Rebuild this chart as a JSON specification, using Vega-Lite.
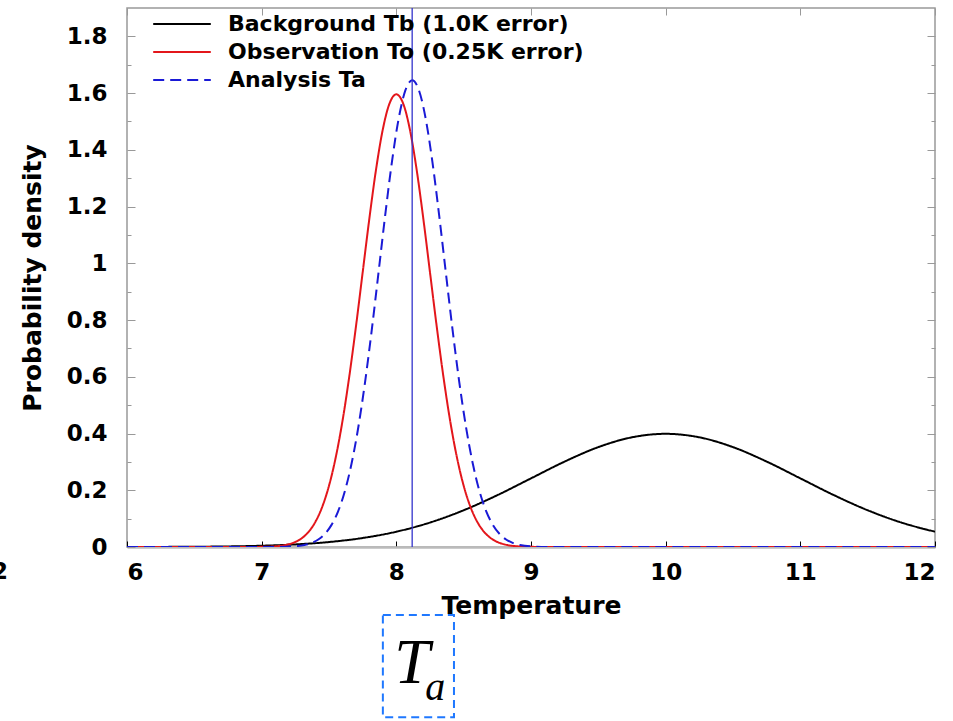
{
  "$schema": "https://vega.github.io/schema/vega-lite/v6.json",
  "width": 808,
  "height": 539,
  "autosize": {"type": "none"},
  "padding": {"left": 127, "top": 8, "right": 18, "bottom": 174},
  "background": "white",
  "config": {
    "view": {"stroke": "#999999", "strokeWidth": 1.5},
    "font": "DejaVu Sans",
    "axis": {"grid": false, "labelFont": "DejaVu Sans", "labelFontWeight": "bold", "labelFontSize": 23, "labelColor": "#000", "titleFont": "DejaVu Sans", "titleFontWeight": "bold", "titleFontSize": 25, "titleColor": "#000"}
  },
  "datasets": {
    "curves": [
      {"series": "Background Tb (1.0K error)", "x": 6, "y": 0.000134},
      {"series": "Background Tb (1.0K error)", "x": 6.25, "y": 0.000353},
      {"series": "Background Tb (1.0K error)", "x": 6.5, "y": 0.000873},
      {"series": "Background Tb (1.0K error)", "x": 6.75, "y": 0.002029},
      {"series": "Background Tb (1.0K error)", "x": 7, "y": 0.004432},
      {"series": "Background Tb (1.0K error)", "x": 7.25, "y": 0.009094},
      {"series": "Background Tb (1.0K error)", "x": 7.5, "y": 0.017528},
      {"series": "Background Tb (1.0K error)", "x": 7.75, "y": 0.03174},
      {"series": "Background Tb (1.0K error)", "x": 8, "y": 0.053991},
      {"series": "Background Tb (1.0K error)", "x": 8.25, "y": 0.086277},
      {"series": "Background Tb (1.0K error)", "x": 8.5, "y": 0.129518},
      {"series": "Background Tb (1.0K error)", "x": 8.75, "y": 0.182649},
      {"series": "Background Tb (1.0K error)", "x": 9, "y": 0.241971},
      {"series": "Background Tb (1.0K error)", "x": 9.25, "y": 0.301137},
      {"series": "Background Tb (1.0K error)", "x": 9.5, "y": 0.352065},
      {"series": "Background Tb (1.0K error)", "x": 9.75, "y": 0.386668},
      {"series": "Background Tb (1.0K error)", "x": 10, "y": 0.398942},
      {"series": "Background Tb (1.0K error)", "x": 10.25, "y": 0.386668},
      {"series": "Background Tb (1.0K error)", "x": 10.5, "y": 0.352065},
      {"series": "Background Tb (1.0K error)", "x": 10.75, "y": 0.301137},
      {"series": "Background Tb (1.0K error)", "x": 11, "y": 0.241971},
      {"series": "Background Tb (1.0K error)", "x": 11.25, "y": 0.182649},
      {"series": "Background Tb (1.0K error)", "x": 11.5, "y": 0.129518},
      {"series": "Background Tb (1.0K error)", "x": 11.75, "y": 0.086277},
      {"series": "Background Tb (1.0K error)", "x": 12, "y": 0.053991},
      {"series": "Observation To (0.25K error)", "x": 6, "y": 0},
      {"series": "Observation To (0.25K error)", "x": 6.8, "y": 0.000016},
      {"series": "Observation To (0.25K error)", "x": 7.0, "y": 0.000535},
      {"series": "Observation To (0.25K error)", "x": 7.1, "y": 0.002448},
      {"series": "Observation To (0.25K error)", "x": 7.2, "y": 0.009537},
      {"series": "Observation To (0.25K error)", "x": 7.25, "y": 0.017727},
      {"series": "Observation To (0.25K error)", "x": 7.3, "y": 0.031662},
      {"series": "Observation To (0.25K error)", "x": 7.35, "y": 0.054331},
      {"series": "Observation To (0.25K error)", "x": 7.4, "y": 0.089578},
      {"series": "Observation To (0.25K error)", "x": 7.45, "y": 0.1419},
      {"series": "Observation To (0.25K error)", "x": 7.5, "y": 0.215964},
      {"series": "Observation To (0.25K error)", "x": 7.55, "y": 0.315801},
      {"series": "Observation To (0.25K error)", "x": 7.6, "y": 0.443683},
      {"series": "Observation To (0.25K error)", "x": 7.65, "y": 0.59891},
      {"series": "Observation To (0.25K error)", "x": 7.7, "y": 0.776744},
      {"series": "Observation To (0.25K error)", "x": 7.75, "y": 0.967882},
      {"series": "Observation To (0.25K error)", "x": 7.8, "y": 1.158767},
      {"series": "Observation To (0.25K error)", "x": 7.85, "y": 1.332898},
      {"series": "Observation To (0.25K error)", "x": 7.9, "y": 1.47308},
      {"series": "Observation To (0.25K error)", "x": 7.95, "y": 1.56417},
      {"series": "Observation To (0.25K error)", "x": 8.0, "y": 1.595769},
      {"series": "Observation To (0.25K error)", "x": 8.05, "y": 1.56417},
      {"series": "Observation To (0.25K error)", "x": 8.1, "y": 1.47308},
      {"series": "Observation To (0.25K error)", "x": 8.15, "y": 1.332898},
      {"series": "Observation To (0.25K error)", "x": 8.2, "y": 1.158767},
      {"series": "Observation To (0.25K error)", "x": 8.25, "y": 0.967882},
      {"series": "Observation To (0.25K error)", "x": 8.3, "y": 0.776744},
      {"series": "Observation To (0.25K error)", "x": 8.35, "y": 0.59891},
      {"series": "Observation To (0.25K error)", "x": 8.4, "y": 0.443683},
      {"series": "Observation To (0.25K error)", "x": 8.45, "y": 0.315801},
      {"series": "Observation To (0.25K error)", "x": 8.5, "y": 0.215964},
      {"series": "Observation To (0.25K error)", "x": 8.55, "y": 0.1419},
      {"series": "Observation To (0.25K error)", "x": 8.6, "y": 0.089578},
      {"series": "Observation To (0.25K error)", "x": 8.65, "y": 0.054331},
      {"series": "Observation To (0.25K error)", "x": 8.7, "y": 0.031662},
      {"series": "Observation To (0.25K error)", "x": 8.75, "y": 0.017727},
      {"series": "Observation To (0.25K error)", "x": 8.8, "y": 0.009537},
      {"series": "Observation To (0.25K error)", "x": 8.9, "y": 0.002448},
      {"series": "Observation To (0.25K error)", "x": 9.0, "y": 0.000535},
      {"series": "Observation To (0.25K error)", "x": 9.2, "y": 0.000016},
      {"series": "Observation To (0.25K error)", "x": 12, "y": 0},
      {"series": "Analysis Ta", "x": 6, "y": 0},
      {"series": "Analysis Ta", "x": 6.9176, "y": 0.000008},
      {"series": "Analysis Ta", "x": 7.1176, "y": 0.000335},
      {"series": "Analysis Ta", "x": 7.2176, "y": 0.001683},
      {"series": "Analysis Ta", "x": 7.3176, "y": 0.007137},
      {"series": "Analysis Ta", "x": 7.3676, "y": 0.013796},
      {"series": "Analysis Ta", "x": 7.4176, "y": 0.02555},
      {"series": "Analysis Ta", "x": 7.4676, "y": 0.045338},
      {"series": "Analysis Ta", "x": 7.5176, "y": 0.077125},
      {"series": "Analysis Ta", "x": 7.5676, "y": 0.125735},
      {"series": "Analysis Ta", "x": 7.6176, "y": 0.196454},
      {"series": "Analysis Ta", "x": 7.6676, "y": 0.294182},
      {"series": "Analysis Ta", "x": 7.7176, "y": 0.422177},
      {"series": "Analysis Ta", "x": 7.7676, "y": 0.580684},
      {"series": "Analysis Ta", "x": 7.8176, "y": 0.765418},
      {"series": "Analysis Ta", "x": 7.8676, "y": 0.966976},
      {"series": "Analysis Ta", "x": 7.9176, "y": 1.170776},
      {"series": "Analysis Ta", "x": 7.9676, "y": 1.358552},
      {"series": "Analysis Ta", "x": 8.0176, "y": 1.510842},
      {"series": "Analysis Ta", "x": 8.0676, "y": 1.610294},
      {"series": "Analysis Ta", "x": 8.1176, "y": 1.64488},
      {"series": "Analysis Ta", "x": 8.1676, "y": 1.610294},
      {"series": "Analysis Ta", "x": 8.2176, "y": 1.510842},
      {"series": "Analysis Ta", "x": 8.2676, "y": 1.358552},
      {"series": "Analysis Ta", "x": 8.3176, "y": 1.170776},
      {"series": "Analysis Ta", "x": 8.3676, "y": 0.966976},
      {"series": "Analysis Ta", "x": 8.4176, "y": 0.765418},
      {"series": "Analysis Ta", "x": 8.4676, "y": 0.580684},
      {"series": "Analysis Ta", "x": 8.5176, "y": 0.422177},
      {"series": "Analysis Ta", "x": 8.5676, "y": 0.294182},
      {"series": "Analysis Ta", "x": 8.6176, "y": 0.196454},
      {"series": "Analysis Ta", "x": 8.6676, "y": 0.125735},
      {"series": "Analysis Ta", "x": 8.7176, "y": 0.077125},
      {"series": "Analysis Ta", "x": 8.7676, "y": 0.045338},
      {"series": "Analysis Ta", "x": 8.8176, "y": 0.02555},
      {"series": "Analysis Ta", "x": 8.8676, "y": 0.013796},
      {"series": "Analysis Ta", "x": 8.9176, "y": 0.007137},
      {"series": "Analysis Ta", "x": 9.0176, "y": 0.001683},
      {"series": "Analysis Ta", "x": 9.1176, "y": 0.000335},
      {"series": "Analysis Ta", "x": 9.3176, "y": 0.000008},
      {"series": "Analysis Ta", "x": 12, "y": 0}
    ],
    "vline": [{"x": 8.1176, "y": 0, "y2": 1.9}],
    "box": [{"x": 7.9, "x2": 8.428, "y": -0.24, "y2": -0.6}],
    "bigT": [{"x": 7.985, "y": -0.48, "t": "T"}],
    "subA": [{"x": 8.215, "y": -0.54, "t": "a"}],
    "edge": [{"x": 5.117, "y": -0.05, "t": "12"}]
  },
  "resolve": {"axis": {"x": "independent", "y": "independent"}},
  "layer": [
    {
      "data": {"name": "curves"},
      "mark": {"type": "line", "interpolate": "monotone", "clip": true},
      "encoding": {
        "x": {"field": "x", "type": "quantitative",
          "scale": {"domain": [6, 12], "nice": false, "zero": false},
          "axis": {"orient": "bottom", "values": [6, 7, 8, 9, 10, 11, 12], "format": "d", "title": "Temperature", "tickSize": -6, "tickColor": "#000", "tickWidth": 1, "domainColor": "#bbbbbb", "domainWidth": 2.5, "labelPadding": 20, "titlePadding": 9}},
        "y": {"field": "y", "type": "quantitative",
          "scale": {"domain": [0, 1.9], "nice": false, "zero": false},
          "axis": {"orient": "left", "values": [0, 0.2, 0.4, 0.6, 0.8, 1, 1.2, 1.4, 1.6, 1.8], "format": "~g", "title": "Probability density", "tickSize": -8, "tickColor": "#999", "domain": false, "labelPadding": 28, "titlePadding": 21}},
        "color": {"field": "series", "type": "nominal",
          "scale": {"domain": ["Background Tb (1.0K error)", "Observation To (0.25K error)", "Analysis Ta"], "range": ["#000000", "#e3161b", "#1a1ad6"]},
          "legend": {"title": null, "orient": "none", "legendX": 42, "legendY": 3, "symbolType": "M-2.4,0H2.4", "symbolSize": 576, "labelFont": "DejaVu Sans", "labelFontWeight": "bold", "labelFontSize": 22, "labelColor": "#000", "labelOffset": 33, "rowPadding": 4, "labelLimit": 0}},
        "strokeDash": {"field": "series", "type": "nominal",
          "scale": {"domain": ["Background Tb (1.0K error)", "Observation To (0.25K error)", "Analysis Ta"], "range": [[1, 0], [1, 0], [11, 6]]}},
        "strokeWidth": {"field": "series", "type": "nominal",
          "scale": {"domain": ["Background Tb (1.0K error)", "Observation To (0.25K error)", "Analysis Ta"], "range": [2, 2, 3.5]}},
        "order": {"field": "x", "type": "quantitative"}
      }
    },
    {
      "data": {"name": "vline"},
      "mark": {"type": "rule", "color": "#3333cc", "strokeWidth": 1.3},
      "encoding": {
        "x": {"field": "x", "type": "quantitative", "scale": {"domain": [6, 12], "nice": false, "zero": false},
          "axis": {"orient": "top", "values": [6, 7, 8, 9, 10, 11, 12], "labels": false, "title": null, "tickSize": -7, "tickColor": "#999", "domain": false}},
        "y": {"field": "y", "type": "quantitative", "scale": {"domain": [0, 1.9], "nice": false, "zero": false},
          "axis": {"orient": "left", "values": [0.1, 0.3, 0.5, 0.7, 0.9, 1.1, 1.3, 1.5, 1.7], "labels": false, "title": null, "tickSize": -4, "tickColor": "#999", "domain": false}},
        "y2": {"field": "y2"}
      }
    },
    {
      "data": {"name": "box"},
      "mark": {"type": "rect", "fill": null, "fillOpacity": 0, "stroke": "#1f78ff", "strokeWidth": 2, "strokeDash": [8, 5]},
      "encoding": {
        "x": {"field": "x", "type": "quantitative", "scale": {"domain": [6, 12], "nice": false, "zero": false}, "axis": null},
        "x2": {"field": "x2"},
        "y": {"field": "y", "type": "quantitative", "scale": {"domain": [0, 1.9], "nice": false, "zero": false},
          "axis": {"orient": "right", "values": [0, 0.2, 0.4, 0.6, 0.8, 1, 1.2, 1.4, 1.6, 1.8], "labels": false, "title": null, "tickSize": -8, "tickColor": "#999", "domain": false}},
        "y2": {"field": "y2"}
      }
    },
    {
      "data": {"name": "bigT"},
      "mark": {"type": "text", "font": "Liberation Serif", "fontStyle": "italic", "fontSize": 64, "align": "left", "baseline": "alphabetic", "color": "#000"},
      "encoding": {
        "x": {"field": "x", "type": "quantitative", "scale": {"domain": [6, 12], "nice": false, "zero": false}, "axis": null},
        "y": {"field": "y", "type": "quantitative", "scale": {"domain": [0, 1.9], "nice": false, "zero": false},
          "axis": {"orient": "right", "values": [0.1, 0.3, 0.5, 0.7, 0.9, 1.1, 1.3, 1.5, 1.7], "labels": false, "title": null, "tickSize": -4, "tickColor": "#999", "domain": false}},
        "text": {"field": "t"}
      }
    },
    {
      "data": {"name": "subA"},
      "mark": {"type": "text", "font": "Liberation Serif", "fontStyle": "italic", "fontSize": 40, "align": "left", "baseline": "alphabetic", "color": "#000"},
      "encoding": {
        "x": {"field": "x", "type": "quantitative", "scale": {"domain": [6, 12], "nice": false, "zero": false}, "axis": null},
        "y": {"field": "y", "type": "quantitative", "scale": {"domain": [0, 1.9], "nice": false, "zero": false}, "axis": null},
        "text": {"field": "t"}
      }
    },
    {
      "data": {"name": "edge"},
      "mark": {"type": "text", "font": "DejaVu Sans", "fontWeight": "bold", "fontSize": 23, "align": "right", "baseline": "top", "color": "#000"},
      "encoding": {
        "x": {"field": "x", "type": "quantitative", "scale": {"domain": [6, 12], "nice": false, "zero": false}, "axis": null},
        "y": {"field": "y", "type": "quantitative", "scale": {"domain": [0, 1.9], "nice": false, "zero": false}, "axis": null},
        "text": {"field": "t"}
      }
    }
  ]
}
